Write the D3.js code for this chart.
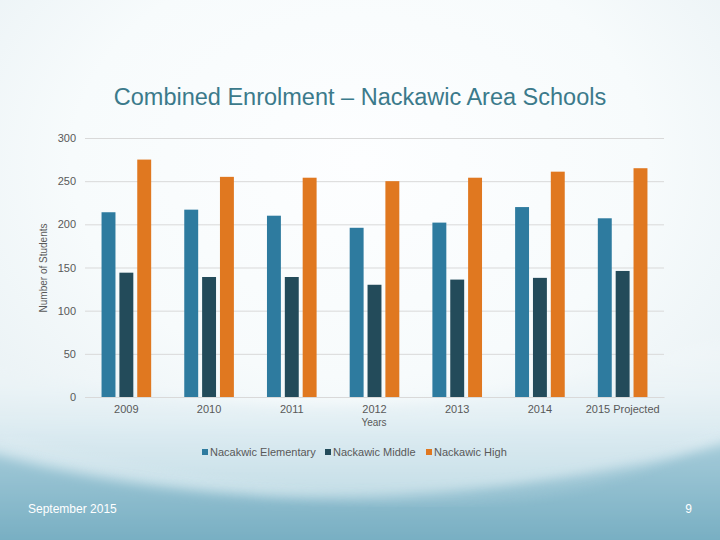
<!DOCTYPE html>
<html>
<head>
<meta charset="utf-8">
<script src="https://cdn.jsdelivr.net/npm/d3@7"></script>
<style>
  html, body { margin: 0; padding: 0; }
  body { width: 720px; height: 540px; overflow: hidden; font-family: "Liberation Sans", Arial, sans-serif; }
</style>
</head>
<body>
<div id="chart"></div>
<script>
// Daten
const years = ["2009", "2010", "2011", "2012", "2013", "2014", "2015 Projected"];
const seriesNames = ["Nacakwic Elementary", "Nackawic Middle", "Nackawic High"];
const elementary = [214, 217, 210, 196, 202, 220, 207];
const middle = [144, 139, 139, 130, 136, 138, 146];
const high = [275, 255, 254, 250, 254, 261, 265];
const yTicks = [0, 50, 100, 150, 200, 250, 300];
const colors = ["#2e7b9f", "#234b5a", "#e07820"];

const width = 720, height = 540;
const values = [elementary, middle, high];

const svg = d3.select("#chart")
    .append("svg")
    .attr("width", width)
    .attr("height", height);

// Hintergrund
const defs = svg.append("defs");
const bg = defs.append("radialGradient")
    .attr("id", "bg")
    .attr("cx", "50%").attr("cy", "30%").attr("r", "80%");
bg.append("stop").attr("offset", "0%").attr("stop-color", "#fdfeff");
bg.append("stop").attr("offset", "50%").attr("stop-color", "#f7fbfc");
bg.append("stop").attr("offset", "100%").attr("stop-color", "#e3edf1");

const wave1 = defs.append("linearGradient")
    .attr("id", "wave1").attr("x1", "0").attr("y1", "0").attr("x2", "0").attr("y2", "1");
wave1.append("stop").attr("offset", "0%").attr("stop-color", "#ffffff").attr("stop-opacity", 0);
wave1.append("stop").attr("offset", "45%").attr("stop-color", "#d6e8ef").attr("stop-opacity", 0.8);
wave1.append("stop").attr("offset", "100%").attr("stop-color", "#a8cedb");

const wave2 = defs.append("linearGradient")
    .attr("id", "wave2").attr("x1", "0").attr("y1", "0").attr("x2", "0").attr("y2", "1");
wave2.append("stop").attr("offset", "0%").attr("stop-color", "#a6ccda");
wave2.append("stop").attr("offset", "100%").attr("stop-color", "#6fa9be");

const blur = defs.append("filter").attr("id", "soft")
    .attr("x", "-10%").attr("y", "-10%").attr("width", "120%").attr("height", "120%");
blur.append("feGaussianBlur").attr("stdDeviation", 6);

svg.append("rect")
    .attr("width", width).attr("height", height)
    .attr("fill", "url(#bg)");

svg.append("path")
    .attr("d", "M-20,360 C200,420 480,430 740,330 L740,560 L-20,560 Z")
    .attr("fill", "url(#wave1)")
    .attr("filter", "url(#soft)");

svg.append("path")
    .attr("d", "M-20,450 C150,500 420,530 740,440 L740,560 L-20,560 Z")
    .attr("fill", "url(#wave2)")
    .attr("filter", "url(#soft)");

svg.append("path")
    .attr("d", "M0,437 C150,480 300,500 430,500 C560,500 650,470 720,430")
    .attr("fill", "none")
    .attr("stroke", "#eef6f9")
    .attr("stroke-width", 2)
    .attr("opacity", 0.5)
    .attr("filter", "url(#soft)");

// Skalen
const x0 = d3.scaleBand()
    .domain(years)
    .range([85, 664])
    .paddingInner(0.4)
    .paddingOuter(0.2);

const x1 = d3.scaleBand()
    .domain(seriesNames)
    .range([0, x0.bandwidth()])
    .paddingInner(0.22);

const y = d3.scaleLinear()
    .domain([0, 300])
    .range([397, 138]);

// Gitterlinien
const yAxis = svg.append("g")
    .attr("transform", "translate(85,0)")
    .call(d3.axisLeft(y).tickValues(yTicks).tickSize(-(664 - 85)).tickPadding(9));
yAxis.select(".domain").remove();
yAxis.selectAll("line").attr("stroke", "#d9d9d9");
yAxis.selectAll("text")
    .attr("fill", "#595959")
    .style("font-size", "11px")
    .style("font-family", "Liberation Sans, Arial, sans-serif");

// Balken
const group = svg.append("g")
    .selectAll("g")
    .data(years)
    .join("g")
    .attr("transform", d => `translate(${x0(d)},0)`);

group.selectAll("rect")
    .data((d, i) => seriesNames.map((s, j) => ({series: s, value: values[j][i], idx: j})))
    .join("rect")
    .attr("x", d => x1(d.series))
    .attr("y", d => y(d.value))
    .attr("width", x1.bandwidth())
    .attr("height", d => y(0) - y(d.value))
    .attr("fill", d => colors[d.idx]);

// X-Achse
const xAxis = svg.append("g")
    .attr("transform", `translate(0,${y(0)})`)
    .call(d3.axisBottom(x0).tickSize(0).tickPadding(8));
xAxis.select(".domain").attr("stroke", "#d9d9d9");
xAxis.selectAll("text")
    .attr("fill", "#595959")
    .style("font-size", "11px")
    .style("font-family", "Liberation Sans, Arial, sans-serif");

// Achsentitel
svg.append("text")
    .attr("transform", "translate(47,268) rotate(-90)")
    .attr("text-anchor", "middle")
    .attr("fill", "#595959")
    .style("font-size", "10px")
    .text("Number of Students");

svg.append("text")
    .attr("x", 374).attr("y", 426)
    .attr("text-anchor", "middle")
    .attr("fill", "#595959")
    .style("font-size", "10px")
    .text("Years");

// Titel
svg.append("text")
    .attr("x", 360).attr("y", 105)
    .attr("text-anchor", "middle")
    .attr("fill", "#3b7a8b")
    .style("font-size", "23.5px")
    .text("Combined Enrolment – Nackawic Area Schools");

// Legende
const legendX = [202, 325, 426];
const legend = svg.append("g")
    .selectAll("g")
    .data(seriesNames)
    .join("g")
    .attr("transform", (d, i) => `translate(${legendX[i]},452)`);
legend.append("rect")
    .attr("x", 0).attr("y", -3)
    .attr("width", 6).attr("height", 6)
    .attr("fill", (d, i) => colors[i]);
legend.append("text")
    .attr("x", 8).attr("y", 4)
    .attr("fill", "#595959")
    .style("font-size", "11px")
    .text(d => d);

// Fusszeile
svg.append("text")
    .attr("x", 28).attr("y", 513)
    .attr("fill", "#ffffff")
    .style("font-size", "12px")
    .text("September 2015");

svg.append("text")
    .attr("x", 692).attr("y", 513)
    .attr("text-anchor", "end")
    .attr("fill", "#ffffff")
    .style("font-size", "12px")
    .text("9");
</script>
</body>
</html>
